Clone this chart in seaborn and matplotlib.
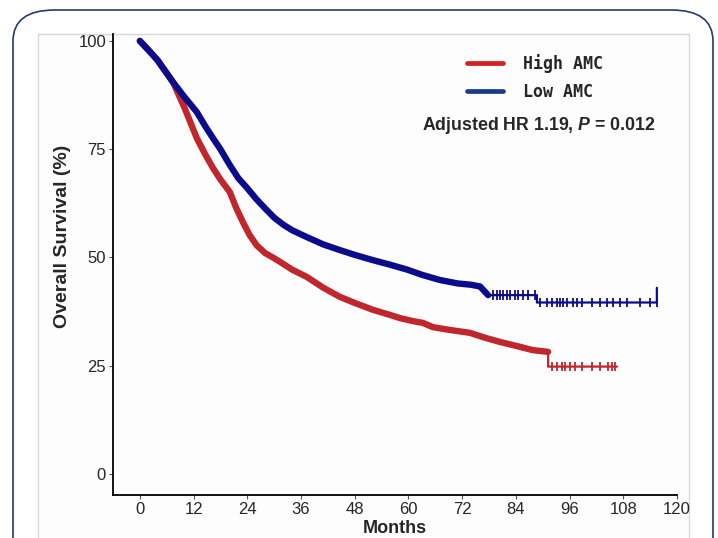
import pandas as pd
import matplotlib.pyplot as plt
import seaborn as sns
from matplotlib.lines import Line2D
from matplotlib.patches import FancyBboxPatch, Rectangle

# Curvas de Kaplan-Meier (meses, supervivencia %)
low_t = [0, 2, 4, 5, 7.4, 10, 12.7, 14.5, 16.3, 18, 20, 22, 24, 26, 28, 30, 32, 34,
         37.3, 41, 44.7, 48, 52, 56, 59.7, 63, 67, 71, 74, 76, 77.8, 88.7, 88.7, 115.5, 115.5]
low_s = [100, 97.8, 95.5, 94, 90.5, 87, 83.6, 80.5, 77.6, 75, 71.5, 68.3, 66, 63.5, 61.3, 59.2, 57.6, 56.3,
         54.7, 53, 51.7, 50.6, 49.4, 48.3, 47.2, 46, 44.8, 44, 43.7, 43.3, 41.3, 41.3, 39.6, 39.6, 43]

high_t = [0, 2, 4, 5, 7.4, 10, 12.7, 14.5, 16.3, 18, 20.1, 21.5, 23, 24.5, 26.1, 28, 29.7, 31.3,
          34, 37.3, 41, 44.7, 48, 52.1, 56, 58.1, 61, 63.2, 65.5, 69, 73.7, 77, 80.4, 84, 87.8,
          91.2, 91.2, 106.6]
high_s = [100, 97.8, 95.5, 94, 90.5, 84.5, 77.6, 74, 70.7, 68, 65.1, 61.5, 58.2, 55.2, 52.8, 51, 50, 49,
          47.2, 45.5, 43, 40.9, 39.5, 37.9, 36.7, 36, 35.3, 34.9, 33.9, 33.3, 32.6, 31.5, 30.5, 29.6, 28.6,
          28.2, 24.8, 24.8]

# Censuras visibles en la cola
low_cens_t = [78.9, 79.8, 80.4, 81.1, 82, 82.7, 83.8, 84.5, 85.6, 86.7, 88.3,
              89.4, 90.9, 92.1, 93.2, 93.9, 94.5, 95.4, 96.8, 97.7, 98.8, 101, 102.8,
              104.4, 105.7, 107.3, 108.8, 111.7, 114, 115.5]
low_cens_s = [41.3] * 11 + [39.6] * 19
high_cens_t = [92.1, 93.2, 94.3, 95, 96.1, 97.2, 98.8, 101, 102.8, 104.6, 105.5, 106.1]
high_cens_s = [24.8] * 12

groups = ['High AMC', 'Low AMC']
line_colors = {'High AMC': '#C0272D', 'Low AMC': '#0B0C8C'}
legend_colors = ['#D42020', '#1A3A8A']
x_ticks = [0, 12, 24, 36, 48, 60, 72, 84, 96, 108, 120]
y_ticks = [0, 25, 50, 75, 100]

df = pd.concat([
    pd.DataFrame({'Months': high_t, 'Survival': high_s, 'Group': 'High AMC'}),
    pd.DataFrame({'Months': low_t, 'Survival': low_s, 'Group': 'Low AMC'}),
], ignore_index=True)
# tramo denso (muchas censuras) -> linea gruesa
df['dense'] = ((df['Group'] == 'Low AMC') & (df['Months'] <= 77.8)) | \
              ((df['Group'] == 'High AMC') & (df['Months'] <= 91.2) & (df['Survival'] > 25))

cens = pd.concat([
    pd.DataFrame({'Months': high_cens_t, 'Survival': high_cens_s, 'Group': 'High AMC'}),
    pd.DataFrame({'Months': low_cens_t, 'Survival': low_cens_s, 'Group': 'Low AMC'}),
], ignore_index=True)

sns.set_style("ticks")
plt.rcParams['font.family'] = ['Liberation Sans', 'DejaVu Sans']
plt.rcParams['mathtext.fontset'] = 'custom'
plt.rcParams['mathtext.it'] = 'Liberation Sans:italic:bold'
plt.rcParams['mathtext.rm'] = 'Liberation Sans:bold'

fig = plt.figure(figsize=(7.18, 5.38), dpi=100)
fig.patch.set_facecolor('white')

# marco redondeado y panel gris
frame = FancyBboxPatch((13 / 718, -0.2), 700 / 718, 1.2 - 10 / 538,
                       boxstyle="round,pad=0,rounding_size=0.058",
                       transform=fig.transFigure, fill=False,
                       edgecolor='#243B6B', linewidth=1.2, zorder=-2)
panel = Rectangle((38 / 718, -0.1), 651 / 718, 1.1 - 34 / 538,
                  transform=fig.transFigure, facecolor='#FDFDFD',
                  edgecolor='#D8D8D8', linewidth=1.0, zorder=-3)
fig.patches.extend([panel, frame])

ax = fig.add_axes([113 / 718, 43 / 538, 564 / 718, 461 / 538])
ax.set_zorder(1)
ax.set_facecolor('none')

sns.lineplot(data=df, x='Months', y='Survival', hue='Group', palette=line_colors,
             estimator=None, sort=False, linewidth=1.6, legend=False, ax=ax)
sns.lineplot(data=df[df['dense']], x='Months', y='Survival', hue='Group', palette=line_colors,
             estimator=None, sort=False, linewidth=4.6, legend=False, ax=ax)
sns.scatterplot(data=cens, x='Months', y='Survival', hue='Group', palette=line_colors,
                marker='|', s=45, linewidth=1.3, legend=False, ax=ax)

ax.set_xlim(-6, 120)
ax.set_ylim(-4.85, 101.6)
ax.set_xticks(x_ticks)
ax.set_yticks(y_ticks)
ax.tick_params(axis='both', labelsize=12, length=3, width=0.8, color='#555555', pad=2)
for s in ['top', 'right']:
    ax.spines[s].set_visible(False)
for s in ['left', 'bottom']:
    ax.spines[s].set_linewidth(1.3)
    ax.spines[s].set_color('black')

ax.set_xlabel('Months', fontsize=13, fontweight='bold', labelpad=2)
ax.set_ylabel('Overall Survival (%)', fontsize=14, fontweight='bold')
ax.yaxis.set_label_coords(-0.075, 0.56)

handles = [Line2D([0], [0], color=c, linewidth=3.4) for c in legend_colors]
ax.legend(handles, groups, loc='upper left', bbox_to_anchor=(0.627, 0.957),
          frameon=False, borderpad=0, borderaxespad=0, handlelength=2.2,
          handletextpad=1.2, labelspacing=0.6,
          prop={'family': 'DejaVu Sans Mono', 'size': 12, 'weight': 'bold'})

ax.text(0.548, 0.802, 'Adjusted HR 1.19, $P$ = 0.012', transform=ax.transAxes,
        fontsize=12.8, fontweight='bold', ha='left', va='center')

plt.savefig('out.png', dpi=100)
plt.close()
